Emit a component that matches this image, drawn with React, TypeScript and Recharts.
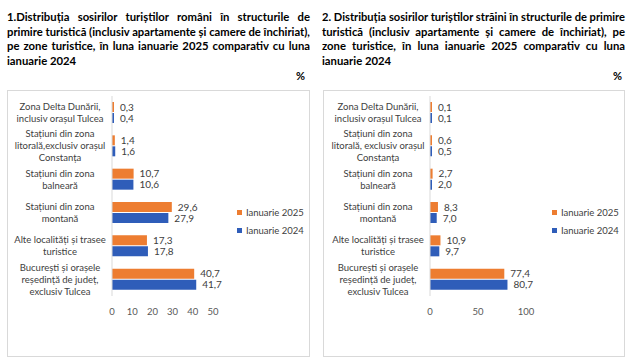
import { useLayoutEffect, useRef, useState } from "react";
import { BarChart, Bar, XAxis, YAxis, Legend, LabelList } from "recharts";

const CATEGORIES_RO = [
  "Zona Delta Dunării,\ninclusiv orașul Tulcea",
  "Stațiuni din zona\nlitorală,exclusiv orașul\nConstanța",
  "Stațiuni din zona\nbalneară",
  "Stațiuni din zona\nmontană",
  "Alte localități și trasee\nturistice",
  "București și orașele\nreședință de județ,\nexclusiv Tulcea",
];
const CATEGORIES_FOREIGN = [
  "Zona Delta Dunării,\ninclusiv orașul Tulcea",
  "Stațiuni din zona\nlitorală, exclusiv orașul\nConstanța",
  "Stațiuni din zona\nbalneară",
  "Stațiuni din zona\nmontană",
  "Alte localități și trasee\nturistice",
  "București și orașele\nreședință de județ,\nexclusiv Tulcea",
];
const RO_2025 = [0.3, 1.4, 10.7, 29.6, 17.3, 40.7];
const RO_2024 = [0.4, 1.6, 10.6, 27.9, 17.8, 41.7];
const FOREIGN_2025 = [0.1, 0.6, 2.7, 8.3, 10.9, 77.4];
const FOREIGN_2024 = [0.1, 0.5, 2.0, 7.0, 9.7, 80.7];
const RO_TICKS = [0, 10, 20, 30, 40, 50];
const FOREIGN_TICKS = [0, 50, 100];
const SERIES_NAMES = ["Ianuarie 2025", "Ianuarie 2024"];

const TITLE_RO = [
  "1.Distribuția sosirilor turiștilor români în structurile de",
  "primire turistică (inclusiv apartamente și camere de închiriat),",
  "pe zone turistice, în luna ianuarie 2025 comparativ cu luna",
  "ianuarie 2024",
];
const TITLE_FOREIGN = [
  "2. Distribuția sosirilor turiștilor străini în structurile de primire",
  "turistică (inclusiv apartamente și camere de închiriat), pe",
  "zone turistice, în luna ianuarie 2025 comparativ cu luna",
  "ianuarie 2024",
];

const ORANGE = "#ED7D31";
const BLUE = "#2F5DB9";
const TEXT = "#404040";
const FONT = "Lato, 'Noto Sans', sans-serif";

const fmt = (v: number) => v.toFixed(1).replace(".", ",");

function TitleLine({ text, width, justify }: { text: string; width: number; justify: boolean }) {
  const ref = useRef<HTMLSpanElement>(null);
  const [style, setStyle] = useState<React.CSSProperties>({});
  useLayoutEffect(() => {
    const el = ref.current;
    if (!el || !justify) return;
    const natural = el.getBoundingClientRect().width;
    const spaces = text.split(" ").length - 1;
    if (natural > width) {
      setStyle({ display: "inline-block", transform: `scaleX(${width / natural})`, transformOrigin: "left" });
    } else {
      setStyle({ wordSpacing: (width - natural) / spaces });
    }
  }, [text, width, justify]);
  return (
    <div style={{ height: 14.7, whiteSpace: "nowrap" }}>
      <span ref={ref} style={style}>
        {text}
      </span>
    </div>
  );
}

function Title({ lines, left, width }: { lines: string[]; left: number; width: number }) {
  return (
    <div
      style={{
        position: "absolute",
        left,
        top: 10,
        width,
        fontFamily: FONT,
        fontWeight: 700,
        fontSize: 11.3,
        lineHeight: "14.7px",
        color: "#000",
      }}
    >
      {lines.map((l, i) => (
        <TitleLine key={i} text={l} width={width} justify={i < lines.length - 1} />
      ))}
    </div>
  );
}

function LegendBox({ payload }: any) {
  const items = [...(payload || [])].sort(
    (a: any, b: any) => SERIES_NAMES.indexOf(a.value) - SERIES_NAMES.indexOf(b.value)
  );
  return (
    <div style={{ fontFamily: FONT, fontSize: 9.5, color: TEXT }}>
      {items.map((p: any) => (
        <div key={p.value} style={{ display: "flex", alignItems: "center", height: 18.5 }}>
          <span style={{ width: 5, height: 5, background: p.color, marginRight: 4 }} />
          <span>{p.value}</span>
        </div>
      ))}
    </div>
  );
}

interface PanelProps {
  left: number;
  width: number;
  axisWidth: number;
  plotWidth: number;
  labelCenter: number;
  categories: string[];
  v2025: number[];
  v2024: number[];
  ticks: number[];
}

function Panel({ left, width, axisWidth, plotWidth, labelCenter, categories, v2025, v2024, ticks }: PanelProps) {
  const data = categories.map((name, i) => ({ name, y2025: v2025[i], y2024: v2024[i] }));
  const height = 267;
  const CategoryTick = ({ y, payload }: any) => {
    const lines = String(payload.value).split("\n");
    const lh = 12;
    const y0 = y - ((lines.length - 1) * lh) / 2 + 3.3;
    return (
      <text textAnchor="middle" fontSize={9.5} fill={TEXT} fontFamily={FONT}>
        {lines.map((l, i) => (
          <tspan key={i} x={labelCenter} y={y0 + i * lh}>
            {l}
          </tspan>
        ))}
      </text>
    );
  };
  return (
    <div style={{ position: "absolute", left, top: 90, width, height }}>
      <div
        style={{
          position: "absolute",
          inset: 0,
          border: "1px solid #d9d9d9",
          boxSizing: "border-box",
        }}
      />
      <div style={{ position: "absolute", left: 0, top: 0 }}>
        <BarChart
          width={width}
          height={height}
          data={data}
          layout="vertical"
          margin={{ top: 6, right: width - axisWidth - plotWidth, left: 0, bottom: 0 }}
          barGap={1}
        >
          <XAxis
            type="number"
            domain={[0, ticks[ticks.length - 1]]}
            ticks={ticks}
            axisLine={false}
            tickLine={false}
            height={24}
            tick={{ fontSize: 9.5, fill: "#595959", fontFamily: FONT }}
            tickMargin={6}
            interval={0}
          />
          <YAxis
            type="category"
            dataKey="name"
            width={axisWidth}
            axisLine={{ stroke: "#d9d9d9" }}
            tickLine={false}
            interval={0}
            tick={<CategoryTick />}
          />
          <Legend
            layout="vertical"
            content={<LegendBox />}
            wrapperStyle={{ position: "absolute", left: width - 73, top: 113, width: 80 }}
          />
          <Bar dataKey="y2025" name={SERIES_NAMES[0]} fill={ORANGE} barSize={10} minPointSize={2} isAnimationActive={false}>
            <LabelList
              dataKey="y2025"
              position="right"
              offset={6}
              formatter={(v: any) => fmt(Number(v))}
              style={{ fontSize: 10, fill: TEXT, fontFamily: FONT }}
            />
          </Bar>
          <Bar dataKey="y2024" name={SERIES_NAMES[1]} fill={BLUE} barSize={10} minPointSize={2} isAnimationActive={false}>
            <LabelList
              dataKey="y2024"
              position="right"
              offset={6}
              formatter={(v: any) => fmt(Number(v))}
              style={{ fontSize: 10, fill: TEXT, fontFamily: FONT }}
            />
          </Bar>
        </BarChart>
      </div>
    </div>
  );
}

export default function App() {
  return (
    <div
      style={{
        position: "absolute",
        left: 0,
        top: 0,
        width: 630,
        height: 361,
        background: "#fff",
        overflow: "hidden",
        fontFamily: FONT,
      }}
    >
      <Title lines={TITLE_RO} left={7} width={303} />
      <Title lines={TITLE_FOREIGN} left={322} width={303} />
      <div style={{ position: "absolute", left: 296, top: 69, fontWeight: 700, fontSize: 11 }}>%</div>
      <div style={{ position: "absolute", left: 613, top: 69, fontWeight: 700, fontSize: 11 }}>%</div>
      <Panel
        left={7}
        width={303}
        axisWidth={105}
        plotWidth={101}
        labelCenter={53}
        categories={CATEGORIES_RO}
        v2025={RO_2025}
        v2024={RO_2024}
        ticks={RO_TICKS}
      />
      <Panel
        left={323}
        width={302}
        axisWidth={107}
        plotWidth={96}
        labelCenter={55}
        categories={CATEGORIES_FOREIGN}
        v2025={FOREIGN_2025}
        v2024={FOREIGN_2024}
        ticks={FOREIGN_TICKS}
      />
    </div>
  );
}
